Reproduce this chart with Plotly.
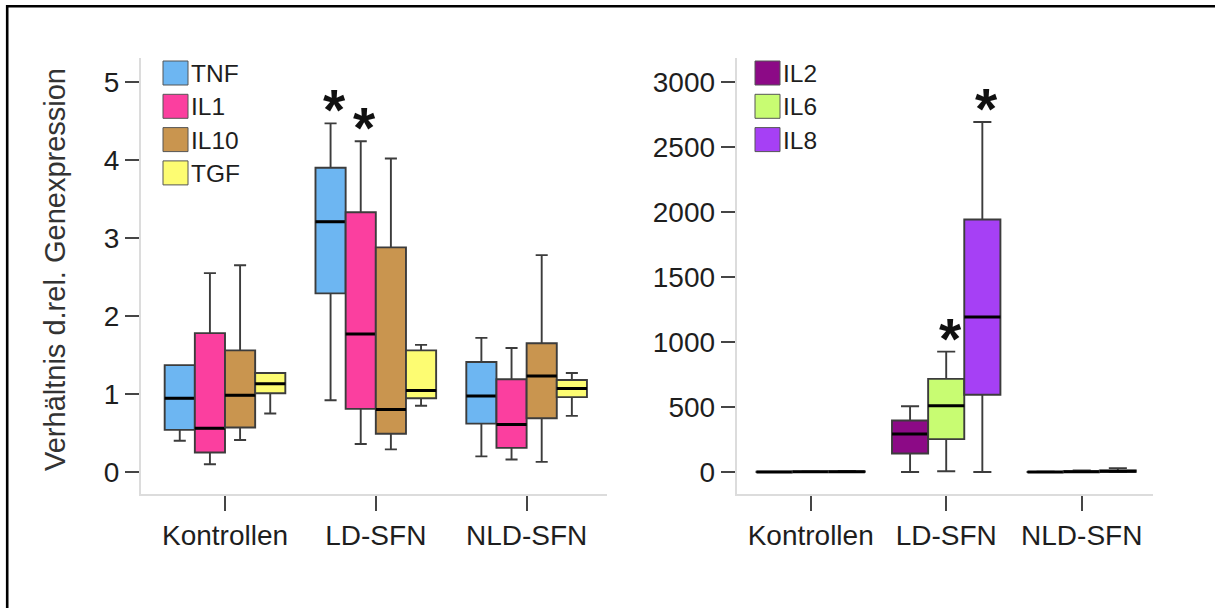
import plotly.graph_objects as go

W, H = 1215, 608

groups = ["Kontrollen", "LD-SFN", "NLD-SFN"]

# Left panel: ratio of relative gene expression (lower whisker, Q1, median, Q3, upper whisker)
TNF = dict(lo=[0.40, 0.92, 0.20], q1=[0.54, 2.29, 0.62], med=[0.945, 3.21, 0.975],
           q3=[1.37, 3.90, 1.41], hi=[1.37, 4.47, 1.72])
IL1 = dict(lo=[0.10, 0.36, 0.16], q1=[0.25, 0.81, 0.31], med=[0.56, 1.77, 0.61],
           q3=[1.78, 3.33, 1.19], hi=[2.55, 4.24, 1.59])
IL10 = dict(lo=[0.41, 0.29, 0.13], q1=[0.57, 0.49, 0.69], med=[0.985, 0.80, 1.23],
            q3=[1.56, 2.88, 1.65], hi=[2.65, 4.02, 2.78])
TGF = dict(lo=[0.75, 0.85, 0.72], q1=[1.01, 0.945, 0.96], med=[1.13, 1.045, 1.07],
           q3=[1.27, 1.56, 1.18], hi=[1.27, 1.63, 1.27])

# Right panel
IL2 = dict(lo=[0.1, 0.0, 0.1], q1=[0.4, 143, 0.3], med=[1.0, 292, 0.8],
           q3=[1.6, 396, 1.5], hi=[3.0, 506, 3.0])
IL6 = dict(lo=[0.2, 6, 0.2], q1=[0.8, 253, 1.0], med=[1.5, 509, 3.0],
           q3=[2.5, 717, 6.0], hi=[5.0, 926, 12.0])
IL8 = dict(lo=[0.3, 0.0, 0.5], q1=[1.0, 595, 2.0], med=[2.0, 1193, 6.0],
           q3=[4.0, 1943, 12.0], hi=[8.0, 2693, 30.0])

left_names = ["TNF", "IL1", "IL10", "TGF"]
left_data = [TNF, IL1, IL10, TGF]
left_colors = ["#6db6f2", "#fb3f9f", "#c9954f", "#fdfc72"]

right_names = ["IL2", "IL6", "IL8"]
right_data = [IL2, IL6, IL8]
right_colors = ["#8c0a86", "#c8fc72", "#a640f5"]

# significant differences (group, series)
left_sig = [("LD-SFN", "TNF"), ("LD-SFN", "IL1")]
right_sig = [("LD-SFN", "IL6"), ("LD-SFN", "IL8")]

left_yticks = [0, 1, 2, 3, 4, 5]
right_yticks = [0, 500, 1000, 1500, 2000, 2500, 3000]

y_title = "Verhältnis d.rel. Genexpression"

FONT = "Liberation Sans, Arial, sans-serif"
TXT = "#1e1e1e"
BOXGAP = 0.2


def px_x(p):
    return p / W


def px_y(p):
    return 1 - p / H


fig = go.Figure()


def add_panel(names, data, colors, xa, ya, whisker):
    for name, d, col in zip(names, data, colors):
        fig.add_trace(go.Box(
            x=groups, q1=d["q1"], median=d["med"], q3=d["q3"],
            lowerfence=d["lo"], upperfence=d["hi"],
            name=name, fillcolor=col, offsetgroup=name,
            line=dict(color="#3c3c3c", width=1.9),
            whiskerwidth=whisker, boxpoints=False,
            xaxis=xa, yaxis=ya, showlegend=False,
        ))
        # heavier black median bar drawn on top of the box
        fig.add_trace(go.Box(
            x=groups, q1=d["med"], median=d["med"], q3=d["med"],
            lowerfence=d["med"], upperfence=d["med"],
            name=name, fillcolor="rgba(0,0,0,0)", offsetgroup=name,
            line=dict(color="#000000", width=3),
            whiskerwidth=0, boxpoints=False, hoverinfo="skip",
            xaxis=xa, yaxis=ya, showlegend=False,
        ))


add_panel(left_names, left_data, left_colors, "x", "y", 0.4)
add_panel(right_names, right_data, right_colors, "x2", "y2", 0.5)

annotations = []


def add_stars(sig, names, data, xref, yref):
    n = len(names)
    width = (1 - BOXGAP) / n
    for grp, ser in sig:
        gi = groups.index(grp)
        si = names.index(ser)
        xpos = gi + (si - (n - 1) / 2) * width
        top = data[si]["hi"][gi]
        annotations.append(dict(
            x=xpos, y=top, xref=xref, yref=yref, text="<b>*</b>",
            showarrow=False, yanchor="bottom", xshift=4, yshift=-21,
            font=dict(family=FONT, size=57, color="#111111"),
        ))


add_stars(left_sig, left_names, left_data, "x", "y")
add_stars(right_sig, right_names, right_data, "x2", "y2")

shapes = []


def add_legend(names, colors, x0, y0, pitch):
    for i, (name, col) in enumerate(zip(names, colors)):
        top = y0 + i * pitch
        shapes.append(dict(
            type="rect", xref="paper", yref="paper",
            x0=px_x(x0), x1=px_x(x0 + 25), y0=px_y(top + 24), y1=px_y(top),
            fillcolor=col, line=dict(color="#555555", width=1),
        ))
        annotations.append(dict(
            x=px_x(x0 + 26), y=px_y(top + 12.5), xref="paper", yref="paper",
            text=name, showarrow=False, xanchor="left", yanchor="middle",
            font=dict(family=FONT, size=24.5, color=TXT),
        ))


add_legend(left_names, left_colors, 163, 61, 33.3)
add_legend(right_names, right_colors, 755, 61, 33.3)

# y-axis title of the left panel
annotations.append(dict(
    x=px_x(55), y=px_y(270), xref="paper", yref="paper", text=y_title,
    textangle=-90, showarrow=False, xanchor="center", yanchor="middle",
    font=dict(family=FONT, size=29, color="#333333"),
))

# frame lines along the top and left edge
shapes.append(dict(type="line", xref="paper", yref="paper",
                   x0=px_x(6), x1=1, y0=px_y(6.2), y1=px_y(6.2),
                   line=dict(color="black", width=2.6)))
shapes.append(dict(type="line", xref="paper", yref="paper",
                   x0=px_x(7.2), x1=px_x(7.2), y0=px_y(5), y1=0,
                   line=dict(color="black", width=2.6)))

axis_common = dict(
    showline=True, linecolor="#dcdcdc", linewidth=2, mirror=False,
    ticks="outside", tickcolor="#454545", tickwidth=1.6,
    showgrid=False, zeroline=False,
    tickfont=dict(family=FONT, size=28, color=TXT),
)

ydom = [px_y(494), px_y(58)]

fig.update_layout(
    width=W, height=H,
    margin=dict(l=0, r=0, t=0, b=0),
    paper_bgcolor="white", plot_bgcolor="white",
    boxmode="group", boxgap=BOXGAP, boxgroupgap=0,
    showlegend=False,
    xaxis=dict(domain=[px_x(141), px_x(607)], type="category",
               categoryorder="array", categoryarray=groups,
               range=[-0.557, 2.533], ticklen=15, anchor="y", **axis_common),
    yaxis=dict(domain=ydom, range=[-0.282, 5.308], tickvals=left_yticks,
               ticklen=14, anchor="x", **axis_common),
    xaxis2=dict(domain=[px_x(736.7), px_x(1153)], type="category",
                categoryorder="array", categoryarray=groups,
                range=[-0.546, 2.526], ticklen=15, anchor="y2", **axis_common),
    yaxis2=dict(domain=ydom, range=[-169, 3185], tickvals=right_yticks,
                ticklen=14, anchor="x2", **axis_common),
    annotations=annotations,
    shapes=shapes,
)

fig.write_html("out.html")
